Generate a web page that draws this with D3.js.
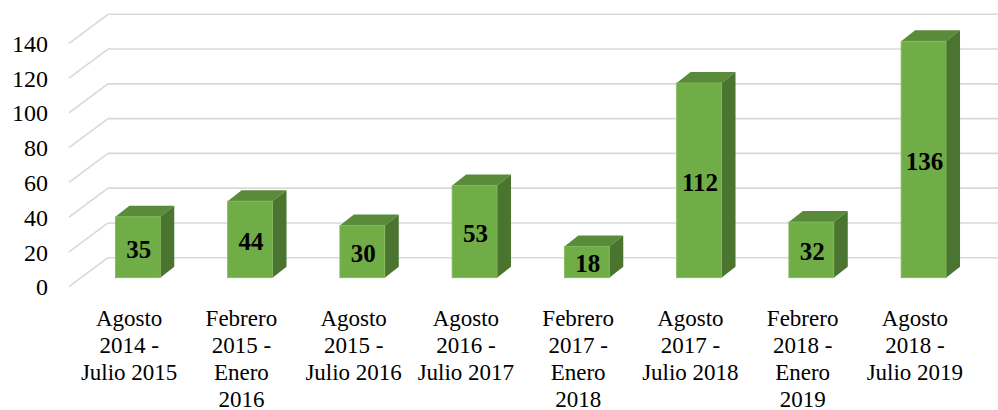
<!DOCTYPE html>
<html>
<head>
<meta charset="utf-8">
<script src="https://cdn.jsdelivr.net/npm/d3@7/dist/d3.min.js"></script>
<style>
  html, body { margin: 0; padding: 0; background: #fff; }
  svg { display: block; }
</style>
</head>
<body>
<svg id="chart" width="998" height="410"></svg>
<script>
const categories = [
  "Agosto\n2014 -\nJulio 2015",
  "Febrero\n2015 -\nEnero\n2016",
  "Agosto\n2015 -\nJulio 2016",
  "Agosto\n2016 -\nJulio 2017",
  "Febrero\n2017 -\nEnero\n2018",
  "Agosto\n2017 -\nJulio 2018",
  "Febrero\n2018 -\nEnero\n2019",
  "Agosto\n2018 -\nJulio 2019"
];
const values = [35, 44, 30, 53, 18, 112, 32, 136];
const yTicks = [0, 20, 40, 60, 80, 100, 120, 140];

const svg = d3.select("#chart");
const font = "'Liberation Serif', 'DejaVu Serif', serif";

// back-wall value scale
const y = d3.scaleLinear().domain([0, 140]).range([257.7, 14.3]);
// front plane category bands
const x = d3.scaleBand().domain(categories).range([73, 971])
  .paddingInner(0.6).paddingOuter(0.3);

// depth geometry (oblique projection)
const depthDX = 39, depthDY = 29;       // full floor depth
const barFrontDY = 20, barShift = 8.7;  // bar front plane
const barDX = 14, barDY = 11;           // bar depth

const grid = svg.append("g");
yTicks.forEach(t => {
  const yb = y(t);
  grid.append("line")
    .attr("x1", 69).attr("y1", yb + depthDY)
    .attr("x2", 69 + depthDX).attr("y2", yb)
    .attr("stroke", "#d9d9d9").attr("stroke-width", 1.6);
  grid.append("line")
    .attr("x1", 69 + depthDX).attr("y1", yb)
    .attr("x2", 998).attr("y2", yb)
    .attr("stroke", "#d9d9d9").attr("stroke-width", 1.6);
});

// y tick labels
svg.append("g").selectAll("text").data(yTicks).join("text")
  .attr("x", 48).attr("y", d => y(d) + depthDY)
  .attr("dy", "0.36em")
  .attr("text-anchor", "end")
  .attr("font-family", font).attr("font-size", 24).attr("fill", "#000")
  .text(d => d);

// bars
const bars = svg.append("g").selectAll("g").data(values).join("g");
const bx = (d, i) => x(categories[i]) + barShift;
const bw = x.bandwidth();
const yFront = v => y(v) + barFrontDY;

bars.append("polygon") // top
  .attr("points", (d, i) => {
    const x0 = bx(d, i), yt = yFront(d);
    return [[x0, yt], [x0 + barDX, yt - barDY], [x0 + bw + barDX, yt - barDY], [x0 + bw, yt]].join(" ");
  })
  .attr("fill", "#5a8b3a");
bars.append("polygon") // side
  .attr("points", (d, i) => {
    const x0 = bx(d, i) + bw, yt = yFront(d), yb = yFront(0);
    return [[x0, yt], [x0 + barDX, yt - barDY], [x0 + barDX, yb - barDY], [x0, yb]].join(" ");
  })
  .attr("fill", "#4b7430");
bars.append("rect") // front
  .attr("x", (d, i) => bx(d, i))
  .attr("y", d => yFront(d))
  .attr("width", bw)
  .attr("height", d => yFront(0) - yFront(d))
  .attr("fill", "#70ad47")
  .attr("stroke", "#7fba58").attr("stroke-width", 0.8);

// data labels
bars.append("text")
  .attr("x", (d, i) => bx(d, i) + bw / 2 + 1)
  .attr("y", d => (yFront(d) + yFront(0)) / 2 + 1.5)
  .attr("dy", "0.35em")
  .attr("text-anchor", "middle")
  .attr("font-family", font).attr("font-weight", "bold")
  .attr("font-size", 25).attr("fill", "#000")
  .text(d => d);

// category labels
const cat = svg.append("g").selectAll("text").data(categories).join("text")
  .attr("text-anchor", "middle")
  .attr("font-family", font).attr("font-size", 23).attr("fill", "#000");
cat.each(function(d) {
  const t = d3.select(this);
  const cx = x(d) + x.bandwidth() / 2;
  d.split("\n").forEach((line, k) => {
    t.append("tspan").attr("x", cx).attr("y", 325.5 + k * 27.3).text(line);
  });
});
</script>
</body>
</html>
